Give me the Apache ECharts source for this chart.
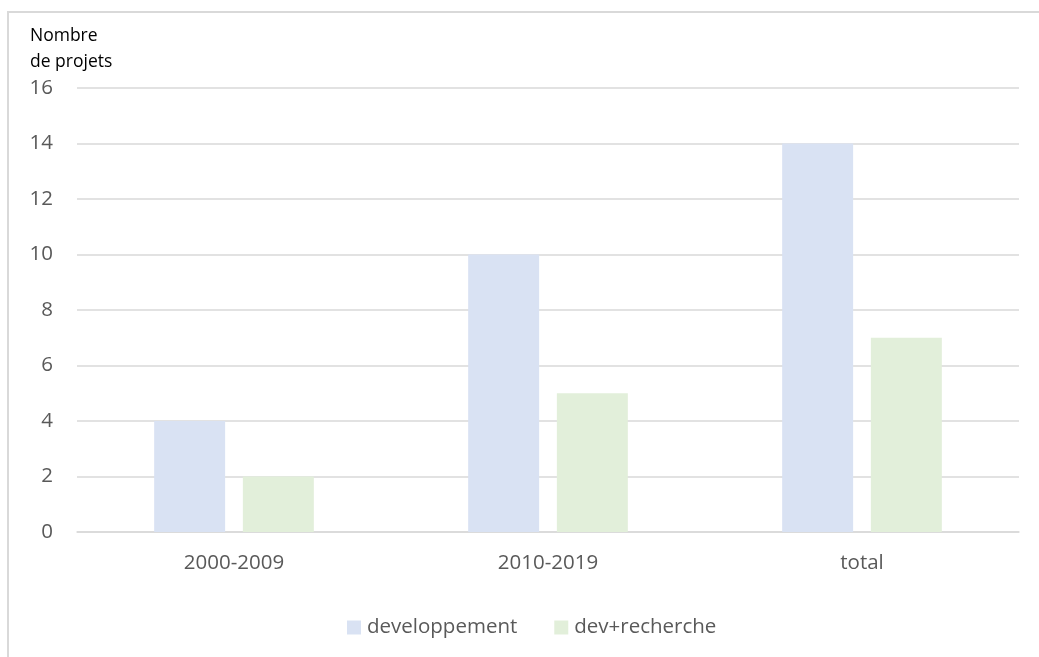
<!DOCTYPE html>
<html><head><meta charset="utf-8">
<script src="https://cdn.jsdelivr.net/npm/echarts@6/dist/echarts.min.js"></script>
<style>
html,body{margin:0;padding:0;background:#fff;}
#frame{position:absolute;left:7px;top:11px;width:1100px;height:700px;border:2px solid #d9d9d9;box-sizing:border-box;}
#c{position:absolute;left:0;top:0;width:1039px;height:657px;}
</style></head>
<body>
<div id="frame"></div>
<div id="c"></div>
<script>
const categories = ['2000-2009', '2010-2019', 'total'];
const developpement = [4, 10, 14];
const devRecherche = [2, 5, 7];
const seriesNames = ['developpement', 'dev+recherche'];
const yTitle = 'Nombre\nde projets';

const chart = echarts.init(document.getElementById('c'), null, {renderer: 'canvas'});
const font = "'Open Sans', 'Noto Sans', sans-serif";
chart.setOption({
  backgroundColor: 'transparent',
  animation: false,
  textStyle: {fontFamily: font},
  grid: {left: 77, right: 20, top: 88, bottom: 125, containLabel: false},
  legend: {
    data: seriesNames,
    bottom: 14,
    left: 342,
    itemWidth: 14, itemHeight: 14, itemGap: 37,
    icon: 'rect',
    textStyle: {fontSize: 20.5, color: '#595959', fontFamily: font, padding: [0, 0, 0, 1]}
  },
  xAxis: {
    type: 'category',
    data: categories,
    axisLine: {lineStyle: {color: '#d9d9d9', width: 1.5}},
    axisTick: {show: false},
    axisLabel: {fontSize: 20.5, color: '#595959', margin: 21, fontFamily: font}
  },
  yAxis: {
    type: 'value',
    min: 0, max: 16, interval: 2,
    name: yTitle,
    nameLocation: 'end',
    nameGap: 13,
    nameTextStyle: {fontSize: 17.5, color: '#000', align: 'left', padding: [0, 0, 0, -47], lineHeight: 26, fontFamily: font},
    axisLine: {show: false},
    axisTick: {show: false},
    splitLine: {lineStyle: {color: '#d9d9d9', width: 1.5}},
    axisLabel: {fontSize: 20.5, color: '#595959', margin: 24, fontFamily: font}
  },
  series: [
    {name: seriesNames[0], type: 'bar', data: developpement, barWidth: '22.6%', barGap: '25%', itemStyle: {color: '#d9e2f3'}},
    {name: seriesNames[1], type: 'bar', data: devRecherche, barWidth: '22.6%', barGap: '25%', itemStyle: {color: '#e2efda'}}
  ]
});
</script>
</body></html>
